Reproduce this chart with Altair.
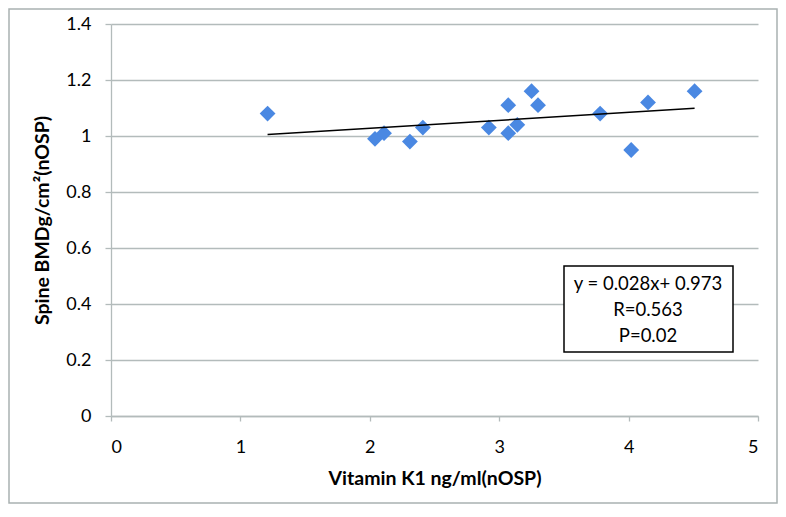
import altair as alt
import pandas as pd

# ---- data ----
vitamin_k1 = [1.21, 2.04, 2.11, 2.31, 2.41, 2.92, 3.07, 3.07, 3.14, 3.25, 3.30, 3.78, 4.02, 4.15, 4.51]
spine_bmd = [1.08, 0.99, 1.01, 0.98, 1.03, 1.03, 1.11, 1.01, 1.04, 1.16, 1.11, 1.08, 0.95, 1.12, 1.16]

fit_x = [1.21, 4.51]
fit_y = [1.005, 1.099]

box_lines = ["y = 0.028x+ 0.973", "R=0.563", "P=0.02"]

x_ticks = [0, 1, 2, 3, 4, 5]
y_ticks = [0, 0.2, 0.4, 0.6, 0.8, 1, 1.2, 1.4]

FONT = "Lato"
GRID = "#b3bbbb"
W, H = 647, 392
PAD_L, PAD_T, PAD_R, PAD_B = 103, 16, 20, 88

points_df = pd.DataFrame({"x": vitamin_k1, "y": spine_bmd})
fit_df = pd.DataFrame({"x": fit_x, "y": fit_y})

xscale = alt.Scale(domain=[0, 5], nice=False, zero=False)
yscale = alt.Scale(domain=[0, 1.4], nice=False)

xaxis = alt.Axis(values=x_ticks, grid=False, format="~g", title="Vitamin K1 ng/ml(nOSP)",
                 tickSize=5, labelPadding=17, titlePadding=13)
yaxis = alt.Axis(values=y_ticks, grid=True, format="~g", title="Spine BMDg/cm²(nOSP)",
                 tickSize=6, labelPadding=14, titlePadding=13)

points = alt.Chart(points_df).mark_point(
    shape="diamond", filled=True, size=250, color="#4a88e2", opacity=1
).encode(
    x=alt.X("x:Q", scale=xscale, axis=xaxis),
    y=alt.Y("y:Q", scale=yscale, axis=yaxis),
)

fit = alt.Chart(fit_df).mark_line(color="black", strokeWidth=1.5).encode(
    x=alt.X("x:Q", scale=xscale, axis=xaxis),
    y=alt.Y("y:Q", scale=yscale, axis=yaxis),
)

one = pd.DataFrame({"k": [0]})

box = alt.Chart(one).mark_rect(
    fill="white", stroke="black", strokeWidth=1.5
).encode(
    x=alt.value(453), x2=alt.value(622), y=alt.value(242), y2=alt.value(328)
)

text_layers = []
for line, ypix in zip(box_lines, [260, 286, 312]):
    text_layers.append(
        alt.Chart(one).mark_text(
            font=FONT, fontSize=18.5, color="black", align="center", baseline="middle",
            text=line,
        ).encode(x=alt.value(537), y=alt.value(ypix))
    )

border = alt.Chart(one).mark_rect(
    fill=None, stroke="#a9b1b1", strokeWidth=1.5
).encode(
    x=alt.value(-PAD_L + 1), x2=alt.value(W + PAD_R - 1),
    y=alt.value(-PAD_T + 1), y2=alt.value(H + PAD_B - 1),
)

chart = alt.layer(border, points, fit, box, *text_layers).properties(
    width=W, height=H,
    autosize=alt.AutoSizeParams(type="none"),
    padding={"left": PAD_L, "top": PAD_T, "right": PAD_R, "bottom": PAD_B},
).configure(background="white").configure_view(stroke=None).configure_axis(
    labelFont=FONT, labelFontSize=18, labelColor="black",
    titleFont=FONT, titleFontSize=19.5, titleFontWeight="bold", titleColor="black",
    domainColor=GRID, tickColor=GRID, gridColor=GRID,
    domainWidth=1.3, tickWidth=1.3, gridWidth=1.3,
)

chart.save("out.html", embed_options={"renderer": "svg", "actions": False})
